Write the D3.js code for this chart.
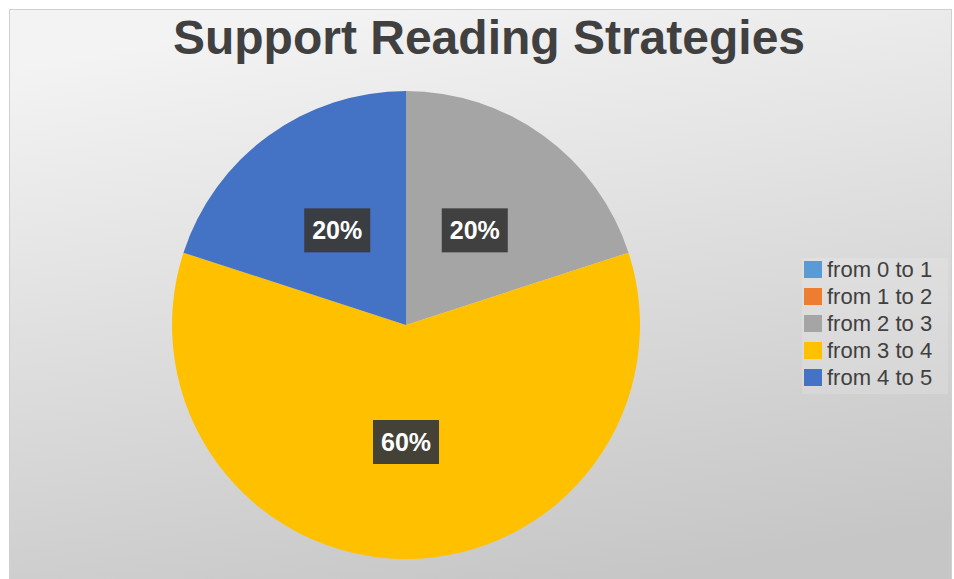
<!DOCTYPE html>
<html>
<head>
<meta charset="utf-8">
<script src="https://cdn.jsdelivr.net/npm/d3@7"></script>
<style>
  html, body { margin: 0; padding: 0; background: #fff; }
  svg { display: block; font-family: "Liberation Sans", Arial, sans-serif; }
</style>
</head>
<body>
<div id="chart"></div>
<script>
const categories = ["from 0 to 1", "from 1 to 2", "from 2 to 3", "from 3 to 4", "from 4 to 5"];
const values = [0, 0, 20, 60, 20];
const colors = ["#5B9BD5", "#ED7D31", "#A5A5A5", "#FFC000", "#4472C4"];
const chartTitle = "Support Reading Strategies";

const width = 954;
const height = 579;
const frame = { x: 9.5, y: 9.5, w: 942, h: 575 };
const cx = 406;
const cy = 325;
const radius = 234;

const data = categories.map((c, i) => ({ name: c, value: values[i], color: colors[i] }));

const svg = d3
  .select("#chart")
  .append("svg")
  .attr("width", width)
  .attr("height", height);

const defs = svg.append("defs");
const grad = defs
  .append("linearGradient")
  .attr("id", "bg")
  .attr("x1", "0.35")
  .attr("y1", "0")
  .attr("x2", "0.65")
  .attr("y2", "1");
grad.append("stop").attr("offset", "0%").attr("stop-color", "#f3f3f3");
grad.append("stop").attr("offset", "100%").attr("stop-color", "#c6c6c6");

svg
  .append("rect")
  .attr("x", frame.x)
  .attr("y", frame.y)
  .attr("width", frame.w)
  .attr("height", frame.h)
  .attr("fill", "url(#bg)")
  .attr("stroke", "#d0d0d0");

svg
  .append("text")
  .attr("x", 489)
  .attr("y", 54)
  .attr("text-anchor", "middle")
  .attr("font-size", 48)
  .attr("font-weight", "bold")
  .attr("fill", "#404040")
  .text(chartTitle);

const pie = d3.pie().value((d) => d.value).sort(null);
const arc = d3.arc().innerRadius(0).outerRadius(radius);
const arcs = pie(data);

const g = svg.append("g").attr("transform", `translate(${cx},${cy})`);

g.selectAll("path")
  .data(arcs.filter((d) => d.value > 0))
  .join("path")
  .attr("d", arc)
  .attr("fill", (d) => d.data.color);

const total = d3.sum(values);
const labels = g
  .selectAll("g.label")
  .data(arcs.filter((d) => d.value > 0))
  .join("g")
  .attr("class", "label")
  .attr("transform", (d) => `translate(${arc.centroid(d)})`);

labels
  .append("rect")
  .attr("x", -33)
  .attr("y", -22)
  .attr("width", 66)
  .attr("height", 44)
  .attr("fill", "#3a3a3a")
  .attr("fill-opacity", 0.95);

labels
  .append("text")
  .attr("text-anchor", "middle")
  .attr("dy", "0.36em")
  .attr("font-size", 25)
  .attr("font-weight", "bold")
  .attr("fill", "#fff")
  .text((d) => `${Math.round((d.value / total) * 100)}%`);

const legend = svg.append("g").attr("transform", "translate(804,258)");

legend
  .append("rect")
  .attr("x", -2)
  .attr("y", 0)
  .attr("width", 146)
  .attr("height", 136)
  .attr("fill", "#fff")
  .attr("fill-opacity", 0.15);

const item = legend
  .selectAll("g.item")
  .data(data)
  .join("g")
  .attr("class", "item")
  .attr("transform", (d, i) => `translate(0,${11 + i * 27})`);

item
  .append("rect")
  .attr("x", 0)
  .attr("y", -8)
  .attr("width", 18)
  .attr("height", 17)
  .attr("fill", (d) => d.color);

item
  .append("text")
  .attr("x", 23)
  .attr("dy", "0.36em")
  .attr("font-size", 22)
  .attr("fill", "#404040")
  .text((d) => d.name);
</script>
</body>
</html>
